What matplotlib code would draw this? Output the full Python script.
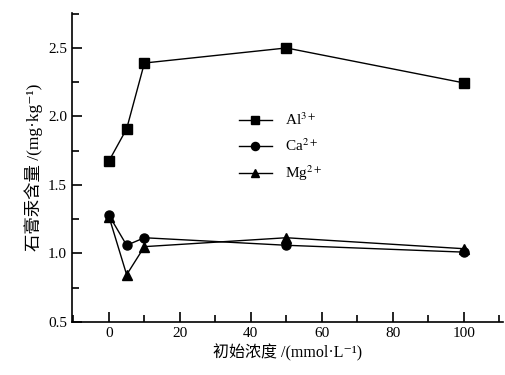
import numpy as np
import matplotlib
matplotlib.use("Agg")
import matplotlib.pyplot as plt
from matplotlib.ticker import MultipleLocator

plt.rcParams['font.family'] = ['Liberation Serif', 'Noto Sans CJK SC', 'DejaVu Serif']
plt.rcParams['mathtext.fontset'] = 'stix'

# data
conc = [0, 5, 10, 50, 100]
al = [1.675, 1.91, 2.39, 2.50, 2.245]
ca = [1.28, 1.06, 1.115, 1.06, 1.01]
mg = [1.27, 0.845, 1.05, 1.115, 1.035]

fig = plt.figure(figsize=(5.05, 3.75), dpi=100)
ax = fig.add_axes([0.1426, 0.1413, 0.853, 0.824])

ax.plot(conc, al, 'k-s', lw=1, ms=6.5, label=r'Al$^{3+}$')
ax.plot(conc, ca, 'k-o', lw=1, ms=6.5, label=r'Ca$^{2+}$')
ax.plot(conc, mg, 'k-^', lw=1, ms=6.5, label=r'Mg$^{2+}$')

ax.set_xlim(-10.4, 111)
ax.set_ylim(0.5, 2.755)
ax.xaxis.set_major_locator(MultipleLocator(20))
ax.xaxis.set_minor_locator(MultipleLocator(10))
ax.yaxis.set_major_locator(MultipleLocator(0.5))
ax.yaxis.set_minor_locator(MultipleLocator(0.25))
ax.tick_params(which='both', direction='in', width=1.2, labelsize=11)
ax.tick_params(which='major', length=7)
ax.tick_params(which='minor', length=5)
ax.spines['top'].set_visible(False)
ax.spines['right'].set_visible(False)
ax.spines['left'].set_linewidth(1.2)
ax.spines['bottom'].set_linewidth(1.2)

ax.set_xlabel('初始浓度 /(mmol·L\u207b\u00b9)', fontsize=11.5, labelpad=3)
ax.set_ylabel('石膏汞含量 /(mg·kg\u207b\u00b9)', fontsize=12.5, labelpad=4)

ax.legend(loc='upper left', bbox_to_anchor=(0.355, 0.725), frameon=False,
          fontsize=11, handlelength=2.2, labelspacing=0.6, markerscale=0.9)

fig.savefig('out.png', dpi=100)
